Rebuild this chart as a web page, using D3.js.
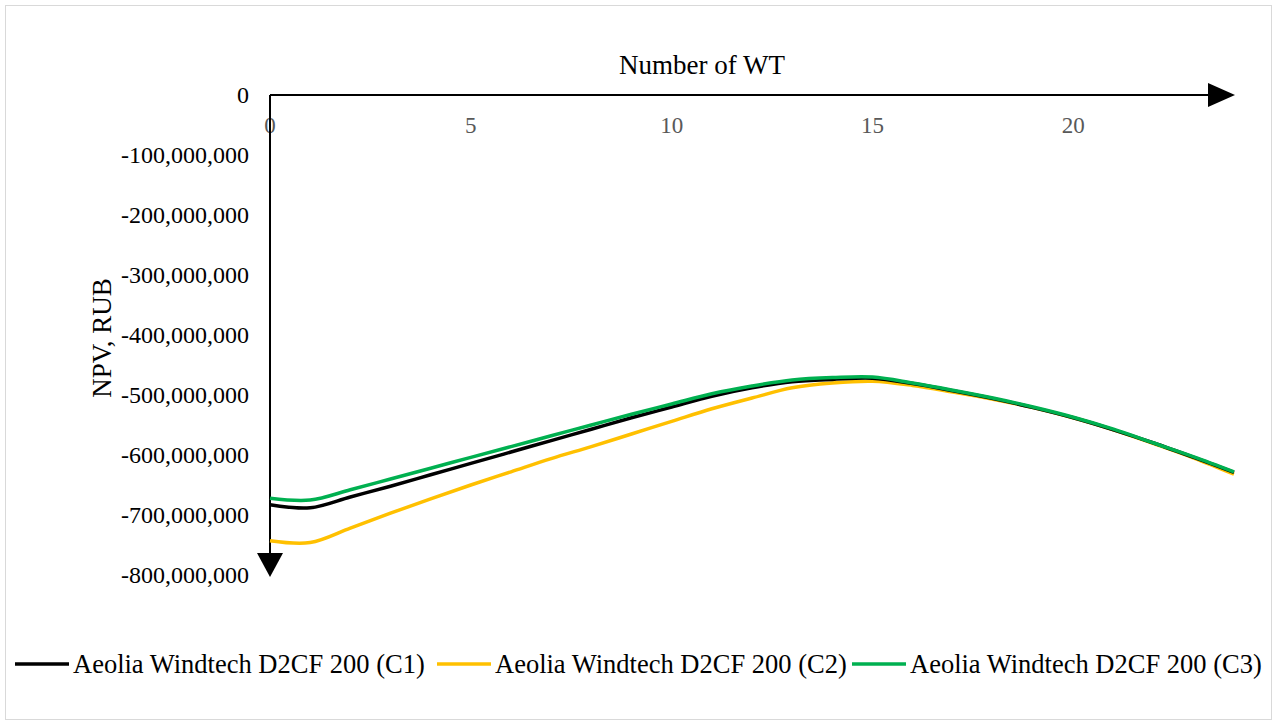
<!DOCTYPE html>
<meta charset="utf-8">
<script src="https://d3js.org/d3.v7.min.js"></script>
<style>
  body { margin: 0; background: #fff; }
  text { font-family: "Liberation Serif", "Times New Roman", serif; }
</style>
<div id="chart"></div>
<script>

// number of wind turbines
const turbines = [0, 1, 2, 3, 4, 5, 6, 7, 8, 9, 10, 11, 12, 13, 14, 15, 16, 17, 18, 19, 20, 21, 22, 23, 24];

// NPV, RUB (millions)
const npvC1 = [-683, -688, -670, -652, -633, -614, -595, -576, -557, -538, -520, -502, -488, -478, -474, -472, -481, -493, -506, -521, -538, -558, -580, -604, -629];
const npvC2 = [-743, -746, -722, -697, -673, -650, -628, -606, -586, -565, -544, -523, -505, -488, -480, -477, -484, -495, -507, -521, -538, -558, -581, -605, -632];
const npvC3 = [-672, -675, -658, -640, -622, -604, -586, -568, -550, -532, -515, -498, -485, -475, -471, -470, -480, -492, -505, -520, -537, -557, -580, -603, -628];

const seriesNames = ["Aeolia Windtech D2CF 200 (C1)", "Aeolia Windtech D2CF 200 (C2)", "Aeolia Windtech D2CF 200 (C3)"];
const seriesColors = ["#000000", "#ffc000", "#00b050"];
const xTicks = [0, 5, 10, 15, 20];
const yTicks = [0, -100, -200, -300, -400, -500, -600, -700, -800];

const W = 1288, H = 722;
const svg = d3.select("#chart").append("svg")
    .attr("width", W)
    .attr("height", H);

// chart frame
svg.append("rect")
    .attr("x", 5.5).attr("y", 5.5)
    .attr("width", 1266).attr("height", 714)
    .attr("fill", "#fff")
    .attr("stroke", "#d9d9d9");

const x = d3.scaleLinear().domain([0, 24]).range([270, 1234]);
const y = d3.scaleLinear().domain([0, -800]).range([95, 575]);

// x axis along the top, with arrow
svg.append("line")
    .attr("x1", x(0)).attr("x2", 1210)
    .attr("y1", y(0)).attr("y2", y(0))
    .attr("stroke", "#000").attr("stroke-width", 2);
svg.append("path")
    .attr("d", `M1208,${y(0) - 12}L1235,${y(0)}L1208,${y(0) + 12}Z`)
    .attr("fill", "#000");

svg.append("g")
  .selectAll("text")
  .data(xTicks)
  .join("text")
    .attr("x", d => x(d))
    .attr("y", y(0) + 38)
    .attr("text-anchor", "middle")
    .attr("fill", "#595959")
    .style("font-size", "23px")
    .text(d => d);

// y axis going down, with arrow
svg.append("line")
    .attr("x1", x(0)).attr("x2", x(0))
    .attr("y1", y(0)).attr("y2", 556)
    .attr("stroke", "#000").attr("stroke-width", 2);
svg.append("path")
    .attr("d", `M${x(0) - 13},553L${x(0)},577L${x(0) + 13},553Z`)
    .attr("fill", "#000");

const fmt = d => (d < 0 ? "-" : "") + d3.format(",")(Math.abs(d) * 1e6);
svg.append("g")
  .selectAll("text")
  .data(yTicks)
  .join("text")
    .attr("x", 249)
    .attr("y", d => y(d) + 8)
    .attr("text-anchor", "end")
    .attr("fill", "#000")
    .style("font-size", "24px")
    .text(fmt);

// axis titles
svg.append("text")
    .attr("x", 702).attr("y", 74)
    .attr("text-anchor", "middle")
    .style("font-size", "27px")
    .text("Number of WT");

svg.append("text")
    .attr("transform", `translate(111, ${(y(0) + y(-800)) / 2 + 3}) rotate(-90)`)
    .attr("text-anchor", "middle")
    .style("font-size", "27px")
    .text("NPV, RUB");

// lines
const allSeries = [npvC1, npvC2, npvC3];
const line = d3.line()
    .x((d, i) => x(turbines[i]))
    .y(d => y(d))
    .curve(d3.curveCatmullRom.alpha(0.5));

// draw C2 first, then C1, then C3 on top
[1, 0, 2].forEach(k => {
  svg.append("path")
      .datum(allSeries[k])
      .attr("fill", "none")
      .attr("stroke", seriesColors[k])
      .attr("stroke-width", 3.5)
      .attr("stroke-linejoin", "round")
      .attr("d", line);
});

// legend
const legendX = [15, 437, 852];
const legend = svg.append("g");
seriesNames.forEach((name, k) => {
  legend.append("line")
      .attr("x1", legendX[k]).attr("x2", legendX[k] + 54)
      .attr("y1", 664).attr("y2", 664)
      .attr("stroke", seriesColors[k])
      .attr("stroke-width", 3.5);
  legend.append("text")
      .attr("x", legendX[k] + 58)
      .attr("y", 673)
      .style("font-size", "26.5px")
      .text(name);
});

</script>
